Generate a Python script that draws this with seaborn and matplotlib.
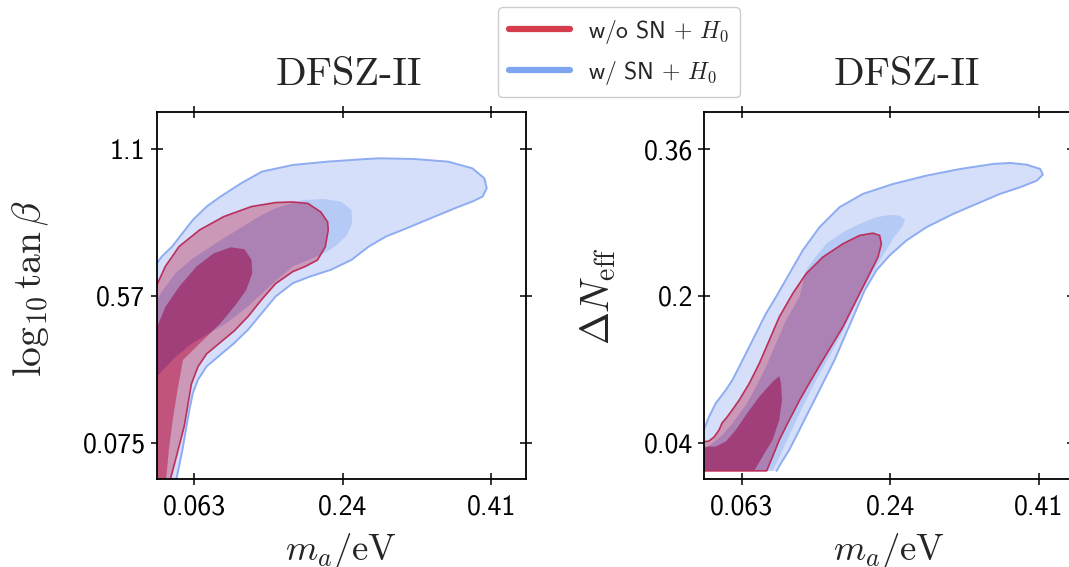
import numpy as np
import matplotlib
matplotlib.use("Agg")
import matplotlib.pyplot as plt
import seaborn as sns
from matplotlib.path import Path
from matplotlib.patches import PathPatch, Polygon
from matplotlib.lines import Line2D

# ---------------- data ----------------
TITLE = "DFSZ-II"
LABELS = [r"w/o SN $+$ $H_0$", r"w/ SN $+$ $H_0$"]
X_TICKS = [0.0633, 0.2367, 0.41]
X_TICK_LABELS = ["0.063", "0.24", "0.41"]
L_Y_TICKS = [0.075, 0.5875, 1.1]
L_Y_TICK_LABELS = ["0.075", "0.57", "1.1"]
R_Y_TICKS = [0.04, 0.2, 0.36]
R_Y_TICK_LABELS = ["0.04", "0.2", "0.36"]
X_RANGE = (0.0195, 0.4505)
L_Y_RANGE = (-0.053, 1.228)
R_Y_RANGE = (0.0, 0.4)
R_DNEFF_CUT = 0.0092

# left panel: log10 tan beta vs m_a  (contour outlines)
L_BLUE_OUT_X = [0.0198, 0.0255, 0.0375, 0.0496, 0.0617, 0.0778, 0.0939, 0.1181, 0.1422, 0.1784,
                0.2187, 0.2590, 0.2791, 0.3193, 0.3596, 0.3878, 0.4019, 0.4047, 0.3998, 0.3878,
                0.3676, 0.3394, 0.3113, 0.2871, 0.2670, 0.2469, 0.2227, 0.1986, 0.1784, 0.1583,
                0.1422, 0.1261, 0.1100, 0.0939, 0.0778, 0.0677, 0.0617, 0.0577, 0.0536, 0.0496,
                0.0456, 0.0424]
L_BLUE_OUT_Y = [0.7014, 0.7247, 0.7595, 0.8060, 0.8525, 0.8990, 0.9338, 0.9803, 1.0210, 1.0442,
                1.0558, 1.0640, 1.0675, 1.0651, 1.0558, 1.0326, 0.9977, 0.9629, 0.9338, 0.9164,
                0.8932, 0.8583, 0.8234, 0.7944, 0.7595, 0.7130, 0.6782, 0.6549, 0.6317, 0.5852,
                0.5271, 0.4690, 0.4225, 0.3818, 0.3412, 0.2947, 0.2482, 0.1901, 0.1204, 0.0506,
                -0.0075, -0.053]
L_BLUE_IN_X = [0.0198, 0.0400, 0.0600, 0.0800, 0.1000, 0.1261, 0.1422, 0.1583, 0.1784, 0.1986,
               0.2150, 0.2300, 0.2420, 0.2477, 0.2469, 0.2348, 0.2147, 0.1905, 0.1583, 0.1422,
               0.0983, 0.0617, 0.0416, 0.0255, 0.0198]
L_BLUE_IN_Y = [0.3063, 0.3700, 0.4200, 0.4550, 0.4900, 0.5500, 0.5950, 0.6400, 0.6900, 0.7150,
               0.7350, 0.7650, 0.8000, 0.8409, 0.8873, 0.9164, 0.9257, 0.9222, 0.8932, 0.8699,
               0.7897, 0.7188, 0.6677, 0.6026, 0.5736]
L_RED_OUT_X = [0.0198, 0.0295, 0.0456, 0.0697, 0.0979, 0.1301, 0.1583, 0.1784, 0.1960, 0.2110,
               0.2190, 0.2197, 0.2162, 0.2070, 0.1930, 0.1784, 0.1583, 0.1422, 0.1261, 0.1100,
               0.0939, 0.0778, 0.0677, 0.0600, 0.0556, 0.0516, 0.0456, 0.0395, 0.0355]
L_RED_OUT_Y = [0.6259, 0.6898, 0.7595, 0.8176, 0.8641, 0.8990, 0.9129, 0.9150, 0.9100, 0.8800,
               0.8450, 0.8170, 0.7580, 0.7120, 0.6900, 0.6720, 0.6300, 0.5750, 0.5150, 0.4650,
               0.4250, 0.3850, 0.3400, 0.2800, 0.2017, 0.1320, 0.0623, -0.0075, -0.053]
L_RED_IN_X = [0.0201, 0.0298, 0.0458, 0.0659, 0.0860, 0.1061, 0.1221, 0.1302, 0.1310, 0.1241,
              0.1101, 0.0940, 0.0699, 0.0502, 0.0438, 0.0382, 0.0337, 0.0305]
L_RED_IN_Y = [0.4800, 0.5498, 0.6196, 0.6894, 0.7359, 0.7568, 0.7499, 0.7126, 0.6661, 0.6079,
              0.5498, 0.4916, 0.4218, 0.3636, 0.2590, 0.1543, 0.0495, -0.053]

# right panel: Delta N_eff vs m_a  (contour outlines)
R_BLUE_OUT_X = [0.0192, 0.0254, 0.0332, 0.0449, 0.0527, 0.0605, 0.0684, 0.0801, 0.0918, 0.1035,
                0.1191, 0.1347, 0.1543, 0.1777, 0.2050, 0.2401, 0.2792, 0.3182, 0.3572, 0.3768,
                0.3963, 0.4119, 0.4150, 0.4080, 0.3885, 0.3650, 0.3377, 0.3104, 0.2792, 0.2557,
                0.2362, 0.2206, 0.2070, 0.1953, 0.1835, 0.1718, 0.1601, 0.1484, 0.1386, 0.1289,
                0.1191, 0.1094, 0.1043]
R_BLUE_OUT_Y = [0.0538, 0.0683, 0.0828, 0.0973, 0.1082, 0.1226, 0.1371, 0.1589, 0.1806, 0.1987,
                0.2241, 0.2495, 0.2748, 0.2966, 0.3111, 0.3219, 0.3310, 0.3382, 0.3437, 0.3448,
                0.3429, 0.3382, 0.3321, 0.3256, 0.3183, 0.3111, 0.3002, 0.2893, 0.2748, 0.2603,
                0.2440, 0.2277, 0.2060, 0.1806, 0.1553, 0.1299, 0.1082, 0.0864, 0.0683, 0.0502,
                0.0321, 0.0176, 0.0092]
R_BLUE_IN_X = [0.0192, 0.0391, 0.0527, 0.0684, 0.0801, 0.0918, 0.1035, 0.1152, 0.1308, 0.1386,
               0.1464, 0.1620, 0.1816, 0.2011, 0.2206, 0.2362, 0.2479, 0.2542, 0.2518, 0.2401,
               0.2284, 0.2167, 0.2050, 0.1933, 0.1816, 0.1699, 0.1570, 0.1445, 0.1340, 0.1230,
               0.1132, 0.1054, 0.0996]
R_BLUE_IN_Y = [0.0321, 0.0466, 0.0611, 0.0810, 0.1009, 0.1226, 0.1480, 0.1734, 0.1987, 0.2277,
               0.2386, 0.2567, 0.2694, 0.2784, 0.2857, 0.2882, 0.2875, 0.2828, 0.2766, 0.2621,
               0.2440, 0.2259, 0.2060, 0.1842, 0.1607, 0.1408, 0.1190, 0.0973, 0.0774, 0.0556,
               0.0357, 0.0194, 0.0092]
R_RED_OUT_X = [0.0192, 0.0254, 0.0313, 0.0371, 0.0406, 0.0465, 0.0524, 0.0606, 0.0723, 0.0840,
               0.0957, 0.1074, 0.1230, 0.1386, 0.1582, 0.1816, 0.2011, 0.2167, 0.2245, 0.2265,
               0.2226, 0.2148, 0.2050, 0.1933, 0.1816, 0.1699, 0.1582, 0.1445, 0.1312, 0.1191,
               0.1074, 0.0996, 0.0926]
R_RED_OUT_Y = [0.0408, 0.0418, 0.0462, 0.0538, 0.0614, 0.0679, 0.0755, 0.0864, 0.1045, 0.1263,
               0.1516, 0.1770, 0.2024, 0.2241, 0.2422, 0.2567, 0.2658, 0.2683, 0.2658, 0.2567,
               0.2422, 0.2277, 0.2096, 0.1879, 0.1661, 0.1480, 0.1299, 0.1082, 0.0864, 0.0647,
               0.0429, 0.0248, 0.0092]
R_RED_IN_X = [0.0192, 0.0332, 0.0449, 0.0566, 0.0684, 0.0840, 0.0996, 0.1074, 0.1094, 0.1105,
              0.1074, 0.0996, 0.0879, 0.0781]
R_RED_IN_Y = [0.0357, 0.0357, 0.0411, 0.0538, 0.0701, 0.0900, 0.1063, 0.1125, 0.1045, 0.0864,
              0.0647, 0.0429, 0.0248, 0.0092]

# ---------------- style ----------------
RED_OUT = "#f198a2"
RED_IN = "#e0384c"
BLUE_OUT = "#7698ee"
BLUE_IN = "#0f52e4"
BLUE_ALPHA = 0.3
RED_EDGE = "#bb2f5c"
BLUE_EDGE = "#8eacf2"
LEG_RED = "#d63c4c"
LEG_BLUE = "#80a5f0"

sns.set_style("ticks")
plt.rcParams["font.family"] = ["cmss10", "DejaVu Sans"]
plt.rcParams["mathtext.fontset"] = "cm"
plt.rcParams["axes.unicode_minus"] = False

W, H = 1069, 567
fig = plt.figure(figsize=(W / 100, H / 100), dpi=100)
ax_w, ax_h = 369.3 / W, 367.0 / H
axL = fig.add_axes([156.7 / W, 1 - 479.3 / H, ax_w, ax_h])
axR = fig.add_axes([704.0 / W, 1 - 479.3 / H, ax_w, ax_h])


def closed(xs, ys, x_out, floor, floor_draw):
    X, Y = list(xs), list(ys)
    if Y[-1] <= floor + 1e-6:
        X += [X[-1], x_out]
        Y += [floor_draw, floor_draw]
    else:
        X.append(x_out)
        Y.append(Y[-1])
    X.append(x_out)
    Y.append(Y[0])
    return np.column_stack([X, Y])


def area(p):
    x, y = p[:, 0], p[:, 1]
    return 0.5 * np.sum(x * np.roll(y, -1) - np.roll(x, -1) * y)


def ring(outer, inner):
    if np.sign(area(outer)) == np.sign(area(inner)):
        inner = inner[::-1]
    verts, codes = [], []
    for poly in (outer, inner):
        verts += list(poly) + [poly[0]]
        codes += [Path.MOVETO] + [Path.LINETO] * (len(poly) - 1) + [Path.CLOSEPOLY]
    return Path(np.array(verts), codes)


def panel(ax, bo, bi, ro, ri, ylim, floor, floor_draw, red_floor_line, title_x):
    x_out = X_RANGE[0] - 0.02
    P = {k: closed(v[0], v[1], x_out, floor, floor_draw)
         for k, v in dict(bo=bo, bi=bi, ro=ro, ri=ri).items()}
    ax.add_patch(Polygon(P["ro"], closed=True, fc=RED_OUT, ec="none", zorder=1))
    ax.add_patch(Polygon(P["ri"], closed=True, fc=RED_IN, ec="none", zorder=1.1))
    ax.add_patch(PathPatch(ring(P["bo"], P["bi"]), fc=BLUE_OUT, ec="none",
                           alpha=BLUE_ALPHA, zorder=2))
    ax.add_patch(Polygon(P["bi"], closed=True, fc=BLUE_IN, ec="none",
                         alpha=BLUE_ALPHA, zorder=2.1))
    sns.lineplot(x=bo[0], y=bo[1], sort=False, estimator=None, color=BLUE_EDGE,
                 lw=1.4, ax=ax, zorder=3)
    rx, ry = list(ro[0]), list(ro[1])
    if red_floor_line:
        rx += [x_out]
        ry += [floor]
    sns.lineplot(x=rx, y=ry, sort=False, estimator=None, color=RED_EDGE,
                 lw=1.2, ax=ax, zorder=3.1)
    ax.set_xlim(*X_RANGE)
    ax.set_ylim(*ylim)
    ax.set_xticks(X_TICKS)
    ax.set_xticklabels(X_TICK_LABELS)
    ax.tick_params(direction="inout", length=8, width=1.1, top=True, right=True,
                   labelsize=20, color="black", labelcolor="black")
    ax.tick_params(axis="x", pad=7)
    ax.tick_params(axis="y", pad=4)
    for s in ax.spines.values():
        s.set_linewidth(1.3)
        s.set_color("black")
        s.set_zorder(5)
    ax.set_title(TITLE, fontfamily="cmr10", fontsize=29, pad=20, x=title_x)
    ax.set_xlabel(r"$m_a/\mathrm{eV}$", fontsize=26.5)
    ax.xaxis.set_label_coords(0.5, -0.14)


panel(axL, (L_BLUE_OUT_X, L_BLUE_OUT_Y), (L_BLUE_IN_X, L_BLUE_IN_Y),
      (L_RED_OUT_X, L_RED_OUT_Y), (L_RED_IN_X, L_RED_IN_Y),
      L_Y_RANGE, L_Y_RANGE[0], L_Y_RANGE[0] - 0.1, False, 0.52)
axL.set_yticks(L_Y_TICKS)
axL.set_yticklabels(L_Y_TICK_LABELS)
axL.set_ylabel(r"$\log_{10}\tan\beta$", fontsize=28.5)
axL.yaxis.set_label_coords(-0.285, 0.52)

panel(axR, (R_BLUE_OUT_X, R_BLUE_OUT_Y), (R_BLUE_IN_X, R_BLUE_IN_Y),
      (R_RED_OUT_X, R_RED_OUT_Y), (R_RED_IN_X, R_RED_IN_Y),
      R_Y_RANGE, R_DNEFF_CUT, R_DNEFF_CUT, True, 0.55)
axR.set_yticks(R_Y_TICKS)
axR.set_yticklabels(R_Y_TICK_LABELS)
axR.set_ylabel(r"$\Delta N_{\rm eff}$", fontsize=28.5)
axR.yaxis.set_label_coords(-0.232, 0.5)

handles = [Line2D([], [], color=LEG_RED, lw=4.5), Line2D([], [], color=LEG_BLUE, lw=4.5)]
fig.legend(handles, LABELS, loc="upper center", bbox_to_anchor=(619 / W, 1 - 7 / H),
           fontsize=17, frameon=True, fancybox=True, edgecolor="#cccccc",
           framealpha=1, handlelength=2.6, handletextpad=0.75, labelspacing=0.55,
           borderpad=0.45, borderaxespad=0)

fig.savefig("out.png", dpi=100)
